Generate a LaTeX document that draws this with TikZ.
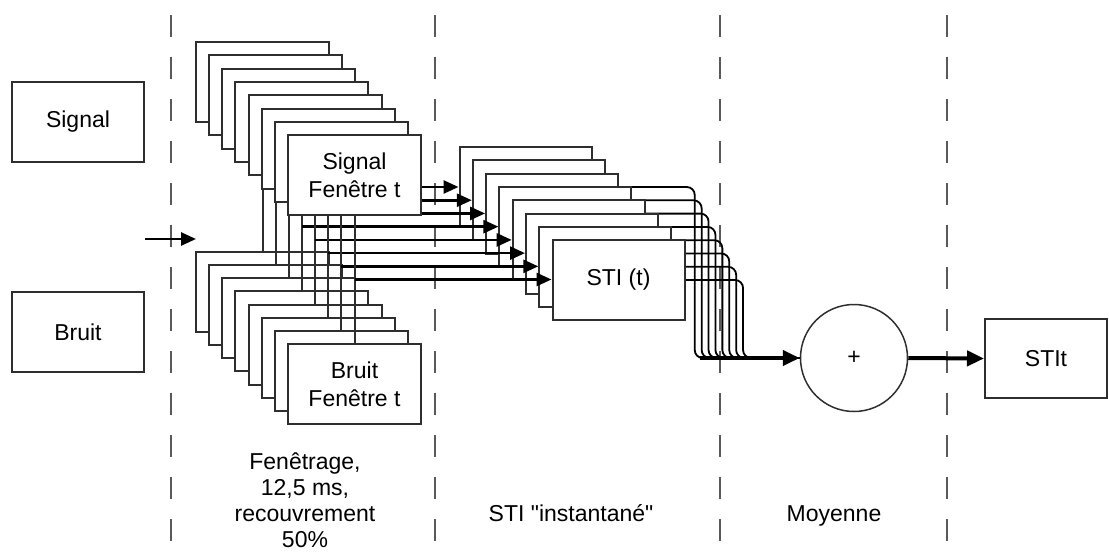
\documentclass[tikz,border=0pt]{standalone}
\usepackage{fontspec}
\setmainfont{Liberation Sans}[Ligatures=TeXOff]
\usetikzlibrary{arrows.meta,positioning,calc,backgrounds}
\definecolor{boxgray}{gray}{0.18}
\definecolor{dashgray}{gray}{0.35}
\pgfdeclarelayer{front}
\pgfsetlayers{background,main,front}

\begin{document}
\begin{tikzpicture}[
  x=1pt, y=-1pt,
  font=\fontsize{23}{28}\selectfont,
  box/.style={draw=boxgray, line width=2pt, fill=white, minimum width=132pt, minimum height=80pt, inner sep=0pt, align=center},
  win/.style={box, minimum width=133pt},
  sep/.style={draw=dashgray, line width=2.4pt, dash pattern=on 22pt off 20pt},
  link/.style={draw=boxgray, line width=2pt},
  arr/.style={-{Triangle[length=15pt,width=13pt]}, line width=2.6pt},
  outl/.style={line width=1.8pt, rounded corners=8pt},
  bigarr/.style={-{Triangle[length=17pt,width=15pt]}, line width=4pt},
  lbl/.style={align=center, inner sep=0pt},
]
  \useasboundingbox (0,0) rectangle (1109,554);

  \node[box] (signal) at (78,122) {Signal};
  \node[box] (bruit) at (78,332) {Bruit};
  \coordinate (inL) at (145,239);
  \coordinate (inR) at (196,239);

  % fenetres du signal, par-dessus les liaisons
  \begin{pgfonlayer}{front}
    \node[win] (sig0) at (262.5,82) {};
    \foreach \k in {1,...,6}
      \node[win] (sig\k) at ($(sig0)+(13.15*\k,13.3*\k)$) {};
    \node[win] (sig7) at ($(sig0)+(92,93)$) {Signal\\Fenêtre t};
  \end{pgfonlayer}

  % STI par fenetre
  \node[box] (sti0) at (525.5,187) {};
  \foreach \k in {1,...,6}
    \node[box] (sti\k) at ($(sti0)+(13.3*\k,13.3*\k)$) {};
  \node[box] (sti7) at ($(sti0)+(93,93)$) {STI (t)};

  % fenetres du bruit
  \node[win] (bru0) at (262.5,292) {};
  \foreach \k in {1,...,6}
    \node[win] (bru\k) at ($(bru0)+(13.15*\k,13.15*\k)$) {};
  \node[win] (bru7) at ($(bru0)+(92,92)$) {Bruit\\Fenêtre t};

  \node[circle, draw=boxgray, line width=1.5pt, minimum size=107pt, inner sep=0pt] (sum) at (854,358) {+};
  \node[box, minimum width=122pt, minimum height=79pt] (stit) at (1046,358.5) {STIt};

  \foreach \k in {0,...,7} {
    \draw[link] (sig\k.south) -- (bru\k.north);
    \coordinate (mid\k) at ($(sig\k.south)!0.5!(bru\k.north)$);
    \draw[arr] (mid\k) -- (mid\k -| sti\k.west);
  }

  \begin{scope}[on background layer]
    \foreach \x in {171,435,720,947}
      \draw[sep] (\x,15) -- (\x,554);
    \foreach \k in {0,...,7}
      \draw[outl] (sti\k.east) -| ($(sum.west)+(-105+6.9*\k,0)$) -- (sum.west);
  \end{scope}

  \coordinate (join) at (700,358);
  \draw[arr] (inL) -- (inR);
  \draw[bigarr] (join) -- (sum.west);
  \draw[bigarr] (sum.east) -- (stit.west);

  \node[lbl, font=\fontsize{23}{26}\selectfont] (fenetrage) at (305,500) {Fenêtrage,\\12,5 ms,\\recouvrement\\50\%};
  \node[lbl, anchor=base] (inst) at (571,521) {STI "instantané"};
  \node[lbl, anchor=base] (moyenne) at (834,521) {Moyenne};
\end{tikzpicture}
\end{document}
